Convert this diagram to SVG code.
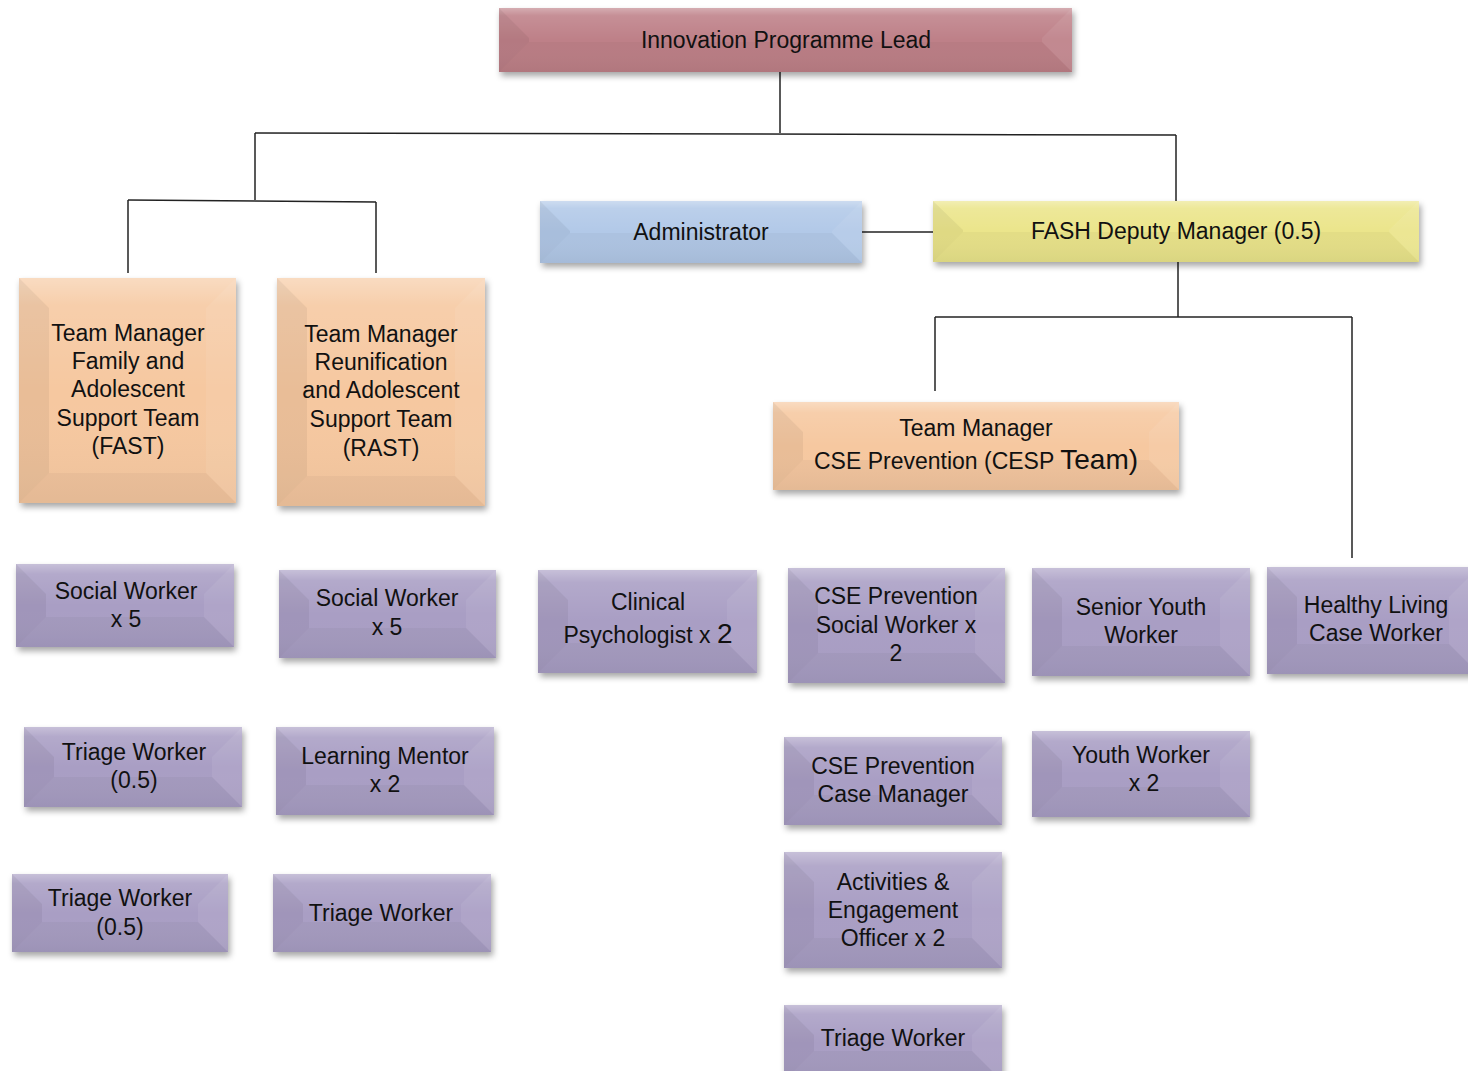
<svg xmlns="http://www.w3.org/2000/svg" width="1468" height="1071" viewBox="0 0 1468 1071">
<defs>
<filter id="sh" x="-10%" y="-20%" width="125%" height="150%">
<feDropShadow dx="2" dy="4" stdDeviation="3" flood-color="#000" flood-opacity="0.35"/>
</filter>
<linearGradient id="gl" x1="0" y1="0" x2="0" y2="1">
<stop offset="0" stop-color="#fff" stop-opacity="0.35"/>
<stop offset="0.12" stop-color="#fff" stop-opacity="0.12"/>
<stop offset="0.5" stop-color="#fff" stop-opacity="0"/>
<stop offset="1" stop-color="#000" stop-opacity="0.04"/>
</linearGradient>
</defs>
<style>
.pink{fill:#BE8088}
.peach{fill:#F6C8A0}
.blue{fill:#B2C9E8}
.yellow{fill:#EBE58B}
.purple{fill:#A99EC4}
.base{filter:url(#sh)}
.bt{fill:url(#gl)}
.bl{fill:#000;fill-opacity:0.05}
.br{fill:#fff;fill-opacity:0.07}
.bb{fill:#000;fill-opacity:0.03}
text{font-family:"Liberation Sans",Arial,sans-serif;font-size:23px;fill:#111;text-anchor:middle}
.big{font-size:28px}
.conn path{fill:none;stroke:#222;stroke-width:1.5}
</style>

<g class="conn" id="connectors">
<path d="M780,72 V133"/>
<path d="M255,133 L1176,135"/>
<path d="M255,133 V200"/>
<path d="M128,200 L376,202"/>
<path d="M128,200 V273"/>
<path d="M376,202 V273"/>
<path d="M1176,135 V201"/>
<path d="M862,232 H933"/>
<path d="M1178,262 V317"/>
<path d="M935,317 H1352"/>
<path d="M935,317 V391"/>
<path d="M1352,317 V558"/>
</g>

<g id="n1">
<rect class="base pink" x="499" y="8" width="573" height="64"/>
<rect class="bt" x="499" y="8" width="573" height="64"/>
<polygon class="bb" points="499,72 1072,72 1042,42 529,42"/>
<polygon class="bl" points="499,8 529,38 529,42 499,72"/>
<polygon class="br" points="1072,8 1042,38 1042,42 1072,72"/>
<text x="786" y="48">Innovation Programme Lead</text>
</g>

<g id="n2">
<rect class="base blue" x="540" y="201" width="322" height="62"/>
<rect class="bt" x="540" y="201" width="322" height="62"/>
<polygon class="bb" points="540,263 862,263 832,233 570,233"/>
<polygon class="bl" points="540,201 570,231 570,233 540,263"/>
<polygon class="br" points="862,201 832,231 832,233 862,263"/>
<text x="701" y="240">Administrator</text>
</g>

<g id="n3">
<rect class="base yellow" x="933" y="201" width="486" height="61"/>
<rect class="bt" x="933" y="201" width="486" height="61"/>
<polygon class="bb" points="933,262 1419,262 1389,232 963,232"/>
<polygon class="bl" points="933,201 963,230 963,232 933,262"/>
<polygon class="br" points="1419,201 1389,230 1389,232 1419,262"/>
<text x="1176" y="239">FASH Deputy Manager (0.5)</text>
</g>

<g id="n4">
<rect class="base peach" x="19" y="278" width="217" height="225"/>
<rect class="bt" x="19" y="278" width="217" height="225"/>
<polygon class="bb" points="19,503 236,503 206,473 49,473"/>
<polygon class="bl" points="19,278 49,308 49,473 19,503"/>
<polygon class="br" points="236,278 206,308 206,473 236,503"/>
<text x="128" y="341">Team Manager</text>
<text x="128" y="369">Family and</text>
<text x="128" y="397">Adolescent</text>
<text x="128" y="426">Support Team</text>
<text x="128" y="454">(FAST)</text>
</g>

<g id="n5">
<rect class="base peach" x="277" y="278" width="208" height="228"/>
<rect class="bt" x="277" y="278" width="208" height="228"/>
<polygon class="bb" points="277,506 485,506 455,476 307,476"/>
<polygon class="bl" points="277,278 307,308 307,476 277,506"/>
<polygon class="br" points="485,278 455,308 455,476 485,506"/>
<text x="381" y="342">Team Manager</text>
<text x="381" y="370">Reunification</text>
<text x="381" y="398">and Adolescent</text>
<text x="381" y="427">Support Team</text>
<text x="381" y="456">(RAST)</text>
</g>

<g id="n6">
<rect class="base peach" x="773" y="402" width="406" height="88"/>
<rect class="bt" x="773" y="402" width="406" height="88"/>
<polygon class="bb" points="773,490 1179,490 1149,460 803,460"/>
<polygon class="bl" points="773,402 803,432 803,460 773,490"/>
<polygon class="br" points="1179,402 1149,432 1149,460 1179,490"/>
<text x="976" y="436">Team Manager</text>
<text x="976" y="469">CSE Prevention (CESP <tspan class="big">Team)</tspan></text>
</g>

<g id="n7">
<rect class="base purple" x="16" y="564" width="218" height="83"/>
<rect class="bt" x="16" y="564" width="218" height="83"/>
<polygon class="bb" points="16,647 234,647 204,617 46,617"/>
<polygon class="bl" points="16,564 46,594 46,617 16,647"/>
<polygon class="br" points="234,564 204,594 204,617 234,647"/>
<text x="126" y="599">Social Worker</text>
<text x="126" y="627">x 5</text>
</g>

<g id="n8">
<rect class="base purple" x="279" y="570" width="217" height="88"/>
<rect class="bt" x="279" y="570" width="217" height="88"/>
<polygon class="bb" points="279,658 496,658 466,628 309,628"/>
<polygon class="bl" points="279,570 309,600 309,628 279,658"/>
<polygon class="br" points="496,570 466,600 466,628 496,658"/>
<text x="387" y="606">Social Worker</text>
<text x="387" y="635">x 5</text>
</g>

<g id="n9">
<rect class="base purple" x="538" y="570" width="219" height="103"/>
<rect class="bt" x="538" y="570" width="219" height="103"/>
<polygon class="bb" points="538,673 757,673 727,643 568,643"/>
<polygon class="bl" points="538,570 568,600 568,643 538,673"/>
<polygon class="br" points="757,570 727,600 727,643 757,673"/>
<text x="648" y="610">Clinical</text>
<text x="648" y="643">Psychologist x <tspan class="big">2</tspan></text>
</g>

<g id="n10">
<rect class="base purple" x="788" y="568" width="217" height="115"/>
<rect class="bt" x="788" y="568" width="217" height="115"/>
<polygon class="bb" points="788,683 1005,683 975,653 818,653"/>
<polygon class="bl" points="788,568 818,598 818,653 788,683"/>
<polygon class="br" points="1005,568 975,598 975,653 1005,683"/>
<text x="896" y="604">CSE Prevention</text>
<text x="896" y="633">Social Worker x</text>
<text x="896" y="661">2</text>
</g>

<g id="n11">
<rect class="base purple" x="1032" y="568" width="218" height="108"/>
<rect class="bt" x="1032" y="568" width="218" height="108"/>
<polygon class="bb" points="1032,676 1250,676 1220,646 1062,646"/>
<polygon class="bl" points="1032,568 1062,598 1062,646 1032,676"/>
<polygon class="br" points="1250,568 1220,598 1220,646 1250,676"/>
<text x="1141" y="615">Senior Youth</text>
<text x="1141" y="643">Worker</text>
</g>

<g id="n12">
<rect class="base purple" x="1267" y="567" width="212" height="107"/>
<rect class="bt" x="1267" y="567" width="212" height="107"/>
<polygon class="bb" points="1267,674 1479,674 1449,644 1297,644"/>
<polygon class="bl" points="1267,567 1297,597 1297,644 1267,674"/>
<polygon class="br" points="1479,567 1449,597 1449,644 1479,674"/>
<text x="1376" y="613">Healthy Living</text>
<text x="1376" y="641">Case Worker</text>
</g>

<g id="n13">
<rect class="base purple" x="24" y="727" width="218" height="80"/>
<rect class="bt" x="24" y="727" width="218" height="80"/>
<polygon class="bb" points="24,807 242,807 212,777 54,777"/>
<polygon class="bl" points="24,727 54,757 54,777 24,807"/>
<polygon class="br" points="242,727 212,757 212,777 242,807"/>
<text x="134" y="760">Triage Worker</text>
<text x="134" y="788">(0.5)</text>
</g>

<g id="n14">
<rect class="base purple" x="276" y="727" width="218" height="88"/>
<rect class="bt" x="276" y="727" width="218" height="88"/>
<polygon class="bb" points="276,815 494,815 464,785 306,785"/>
<polygon class="bl" points="276,727 306,757 306,785 276,815"/>
<polygon class="br" points="494,727 464,757 464,785 494,815"/>
<text x="385" y="764">Learning Mentor</text>
<text x="385" y="792">x 2</text>
</g>

<g id="n15">
<rect class="base purple" x="784" y="737" width="218" height="88"/>
<rect class="bt" x="784" y="737" width="218" height="88"/>
<polygon class="bb" points="784,825 1002,825 972,795 814,795"/>
<polygon class="bl" points="784,737 814,767 814,795 784,825"/>
<polygon class="br" points="1002,737 972,767 972,795 1002,825"/>
<text x="893" y="774">CSE Prevention</text>
<text x="893" y="802">Case Manager</text>
</g>

<g id="n16">
<rect class="base purple" x="1032" y="731" width="218" height="86"/>
<rect class="bt" x="1032" y="731" width="218" height="86"/>
<polygon class="bb" points="1032,817 1250,817 1220,787 1062,787"/>
<polygon class="bl" points="1032,731 1062,761 1062,787 1032,817"/>
<polygon class="br" points="1250,731 1220,761 1220,787 1250,817"/>
<text x="1141" y="763">Youth Worker</text>
<text x="1144" y="791">x 2</text>
</g>

<g id="n17">
<rect class="base purple" x="12" y="874" width="216" height="78"/>
<rect class="bt" x="12" y="874" width="216" height="78"/>
<polygon class="bb" points="12,952 228,952 198,922 42,922"/>
<polygon class="bl" points="12,874 42,904 42,922 12,952"/>
<polygon class="br" points="228,874 198,904 198,922 228,952"/>
<text x="120" y="906">Triage Worker</text>
<text x="120" y="935">(0.5)</text>
</g>

<g id="n18">
<rect class="base purple" x="273" y="874" width="218" height="78"/>
<rect class="bt" x="273" y="874" width="218" height="78"/>
<polygon class="bb" points="273,952 491,952 461,922 303,922"/>
<polygon class="bl" points="273,874 303,904 303,922 273,952"/>
<polygon class="br" points="491,874 461,904 461,922 491,952"/>
<text x="381" y="921">Triage Worker</text>
</g>

<g id="n19">
<rect class="base purple" x="784" y="852" width="218" height="116"/>
<rect class="bt" x="784" y="852" width="218" height="116"/>
<polygon class="bb" points="784,968 1002,968 972,938 814,938"/>
<polygon class="bl" points="784,852 814,882 814,938 784,968"/>
<polygon class="br" points="1002,852 972,882 972,938 1002,968"/>
<text x="893" y="890">Activities &amp;</text>
<text x="893" y="918">Engagement</text>
<text x="893" y="946">Officer x 2</text>
</g>

<g id="n20">
<rect class="base purple" x="784" y="1005" width="218" height="76"/>
<rect class="bt" x="784" y="1005" width="218" height="76"/>
<polygon class="bb" points="784,1081 1002,1081 972,1051 814,1051"/>
<polygon class="bl" points="784,1005 814,1035 814,1051 784,1081"/>
<polygon class="br" points="1002,1005 972,1035 972,1051 1002,1081"/>
<text x="893" y="1046">Triage Worker</text>
</g>
</svg>
